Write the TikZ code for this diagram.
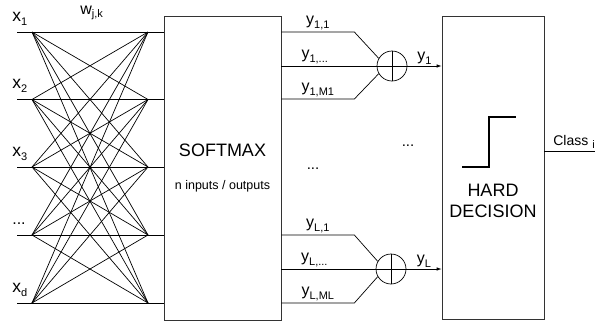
\documentclass[tikz,border=0pt]{standalone}
\usepackage{fontspec}
\setmainfont{Liberation Sans}
\usetikzlibrary{arrows.meta,positioning,calc}
\newcommand{\lowsub}[1]{\raisebox{-0.45ex}{\fontsize{11}{11}\selectfont #1}}

\begin{document}
\begin{tikzpicture}[x=1pt,y=-1pt,line width=0.7pt,>={Latex[length=5pt,width=3.5pt]},
  block/.style={draw=black!80,fill=white,inner sep=0pt},
  sumnode/.style={draw,circle,minimum size=30pt,inner sep=0pt,
    path picture={\draw (path picture bounding box.north) -- (path picture bounding box.south)
      (path picture bounding box.west) -- (path picture bounding box.east);}},
  lbl/.style={font=\fontsize{16}{18}\selectfont,inner sep=0pt}]
  \useasboundingbox (0,0) rectangle (595,322);

  % blocks
  \node[block,minimum width=117pt,minimum height=304pt] (softmax) at (222.5,168) {};
  \node[font=\fontsize{18}{18}\selectfont,anchor=base] (smtitle) at (222.5,156) {SOFTMAX};
  \node[font=\fontsize{12.5}{14}\selectfont,anchor=base] (smnote) at (222.5,189) {n inputs / outputs};
  \node[block,minimum width=102pt,minimum height=303pt] (hard) at (493,167.5) {};
  \node[font=\fontsize{18}{21}\selectfont,align=center,anchor=base] (hdtext) at (493,217) {HARD\\DECISION};
  \draw[line width=1.8pt] (462,167) -- (489,167) -- (489,117) -- (516,117);

  % input layer, fully connected
  \foreach \n/\y in {1/32,2/99.5,3/167,4/235,5/303} {
    \coordinate (in\n) at (17,\y);
    \coordinate (l\n) at (32,\y);
    \coordinate (r\n) at (148,\y);
  }
  \foreach \a in {1,...,5} {
    \draw (in\a) -- (l\a);
    \draw (r\a) -- (softmax.west |- r\a);
    \foreach \b in {1,...,5}
      \draw (l\a) -- (r\b);
  }
  \node[lbl,font=\fontsize{17.5}{18}\selectfont,anchor=base west] (x1) at (12,21) {x\lowsub{1}};
  \node[lbl,font=\fontsize{17.5}{18}\selectfont,anchor=base west] (x2) at (12,88.5) {x\lowsub{2}};
  \node[lbl,font=\fontsize{17.5}{18}\selectfont,anchor=base west] (x3) at (12,156) {x\lowsub{3}};
  \node[lbl,anchor=base west] (xdots) at (12,224) {...};
  \node[lbl,font=\fontsize{17.5}{18}\selectfont,anchor=base west] (xd) at (12,292) {x\lowsub{d}};
  \node[lbl,anchor=base west] (wlabel) at (80,14) {w\lowsub{j,k}};

  % outputs and sums
  \node[sumnode] (sum1) at (392,66) {};
  \node[sumnode] (sumL) at (391,269) {};
  \foreach \g/\y in {1/66,L/269} {
    \draw (softmax.east |- 0,\y-34) -- node[lbl,above=1.5pt] {y\lowsub{\g,1}} ++(73,0) -- (sum\g.150);
    \draw (softmax.east |- sum\g) -- node[lbl,above=1.5pt,pos=0.35] {y\lowsub{\g,...}} (sum\g.west);
    \draw[->] (sum\g) -- node[lbl,above=1.5pt] {y\lowsub{\g}} (hard.west |- sum\g);
  }
  \draw (softmax.east |- 0,99) -- node[lbl,above=1.5pt] {y\lowsub{1,M1}} ++(73,0) -- (sum1.210);
  \draw (softmax.east |- 0,303) -- node[lbl,above=1.5pt] {y\lowsub{L,ML}} ++(73,0) -- (sumL.210);

  \node[font=\fontsize{15}{15}\selectfont] (dotsa) at (313,169) {...};
  \node[font=\fontsize{15}{15}\selectfont] (dotsb) at (408,146) {...};

  % class output
  \coordinate (classend) at (595,151);
  \draw (hard.east |- classend) -- (classend);
  \node[font=\fontsize{14}{14}\selectfont,anchor=base west,inner sep=0pt] (classlbl) at (553,145) {Class \lowsub{i}};
\end{tikzpicture}
\end{document}
